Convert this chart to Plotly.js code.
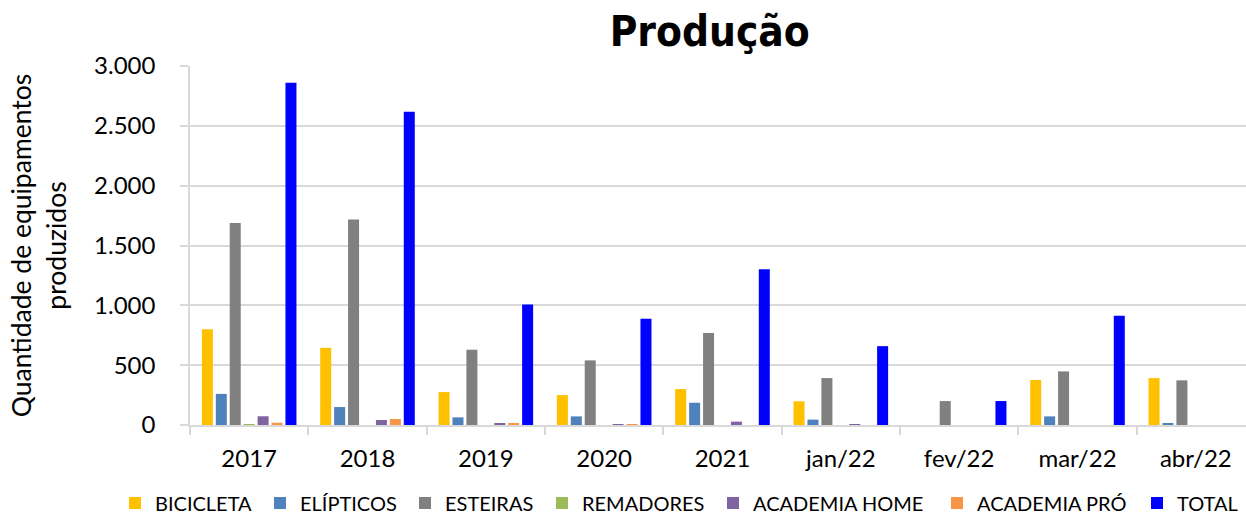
<!DOCTYPE html>
<html>
<head>
<meta charset="utf-8">
<script src="https://cdn.plot.ly/plotly-3.0.1.min.js"></script>
<style>
html,body{margin:0;padding:0;background:#fff;overflow:hidden;}
#chart{width:1255px;height:515px;}
</style>
</head>
<body>
<div id="chart"></div>
<script>
const categories = ["2017","2018","2019","2020","2021","jan/22","fev/22","mar/22","abr/22"];
const bicicleta    = [800, 645, 275, 250, 300, 198, 0, 376, 392];
const elipticos    = [260, 150, 64, 72, 186, 45, 0, 72, 10];
const esteiras     = [1688, 1717, 629, 540, 768, 392, 200, 448, 373];
const remadores    = [8, 0, 0, 0, 0, 0, 0, 0, 0];
const academiaHome = [73, 42, 17, 6, 28, 8, 0, 0, 0];
const academiaPro  = [19, 50, 17, 3, 0, 0, 0, 0, 0];
const total        = [2860, 2618, 1007, 888, 1302, 659, 200, 913, 0];

const seriesNames  = ["BICICLETA","ELÍPTICOS","ESTEIRAS","REMADORES","ACADEMIA HOME","ACADEMIA PRÓ","TOTAL"];
const seriesValues = [bicicleta, elipticos, esteiras, remadores, academiaHome, academiaPro, total];
const seriesColors = ["#FFC000","#4F81BD","#808080","#9BBB59","#8064A2","#F79646","#0000FF"];
const yTickVals = [0,500,1000,1500,2000,2500,3000];
const yTickText = ["0","500","1.000","1.500","2.000","2.500","3.000"];

const FONT = "Lato, 'Open Sans', sans-serif";

// plot area geometry (px)
const PL = 190, PR = 1255, PT = 66, PB = 425;
const PW = PR - PL, PH = PB - PT;
const legendTextX = [155, 300, 445, 582, 753, 977, 1177];
const legendCY = 503;

const data = seriesNames.map((n,i)=>({
  type:"bar",
  name:n,
  x:categories,
  y:seriesValues[i],
  legend: i === 0 ? "legend" : "legend" + (i+1),
  marker:{color:seriesColors[i], line:{width:0}},
  hoverinfo:"x+y+name"
}));

const layout = {
  width:1255, height:515,
  margin:{l:PL, r:1255-PR, t:PT, b:515-PB, pad:0, autoexpand:false},
  paper_bgcolor:"#fff", plot_bgcolor:"#fff",
  barmode:"group",
  bargap:0.176,
  bargroupgap:0.21,
  font:{family:FONT, color:"#000", size:24},
  title:{
    text:"<b>Produção</b>",
    font:{family:"'DejaVu Sans Condensed','DejaVu Sans', sans-serif", size:42, color:"#000"},
    xref:"paper", x:0.488, xanchor:"center",
    yref:"container", y:0.94, yanchor:"middle"
  },
  xaxis:{
    type:"category",
    showgrid:false,
    showline:true, linecolor:"#d9d9d9", linewidth:1.5,
    ticks:"outside", tickson:"boundaries", ticklen:8, tickcolor:"#d9d9d9", tickwidth:1.5,
    ticklabelstandoff:11,
    tickfont:{family:FONT, size:24, color:"#000"},
    fixedrange:true
  },
  yaxis:{
    range:[0,3000],
    tickvals:yTickVals, ticktext:yTickText,
    showgrid:true, gridcolor:"#d9d9d9", gridwidth:1.5,
    showline:true, linecolor:"#d9d9d9", linewidth:1.5,
    ticks:"outside", ticklen:8, tickcolor:"#d9d9d9", tickwidth:1.5,
    ticklabelstandoff:20,
    zeroline:false,
    tickfont:{family:FONT, size:24, color:"#000"},
    title:{text:"Quantidade de equipamentos<br>produzidos", font:{family:FONT, size:26.5, color:"#000"}, standoff:20},
    fixedrange:true
  },
  showlegend:true
};

seriesNames.forEach((n,i)=>{
  const key = i === 0 ? "legend" : "legend" + (i+1);
  layout[key] = {
    orientation:"h",
    x:(legendTextX[i] - 40 - PL) / PW, xanchor:"left",
    y:(PB - legendCY) / PH, yanchor:"middle",
    font:{family:FONT, size:20, color:"#000"},
    itemwidth:30,
    bgcolor:"rgba(0,0,0,0)",
    borderwidth:0
  };
});

Plotly.newPlot("chart", data, layout, {displayModeBar:false});
</script>
</body>
</html>
